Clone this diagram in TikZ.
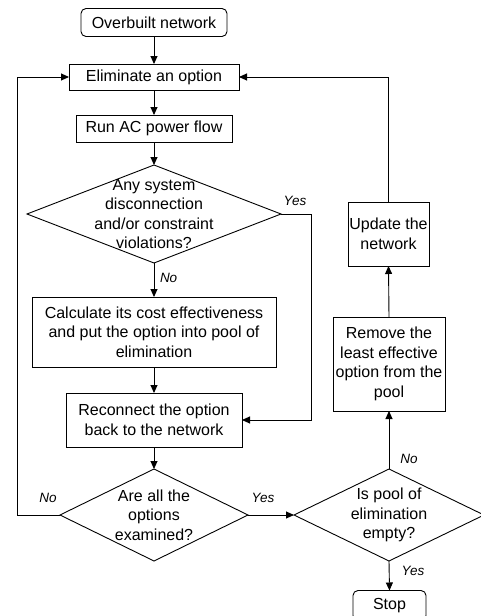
\documentclass[tikz,border=0pt]{standalone}
\usepackage{fontspec}
\setmainfont{Liberation Sans}
\usetikzlibrary{shapes.geometric,arrows.meta}
\begin{document}
\begin{tikzpicture}[x=1pt,y=-1pt,
  every node/.style={inner sep=0pt, outer sep=0pt},
  txt/.style={font=\fontsize{16}{19.5}\selectfont, align=center},
  boxnode/.style={draw, line width=0.9pt, txt},
  roundbox/.style={boxnode, rounded corners=5pt},
  dia/.style={draw, line width=0.9pt, diamond, inner sep=0pt},
  lbl/.style={font=\fontsize{13.5}{16}\selectfont\itshape},
  conn/.style={line width=0.9pt, -{Triangle[length=8pt,width=7pt]}},
  plain/.style={line width=0.9pt}]
\useasboundingbox (0,0) rectangle (480,616);

\node[roundbox, minimum width=146pt, minimum height=28pt] (start) at (154,22.5) {Overbuilt network};
\node[boxnode, minimum width=170pt, minimum height=26pt] (elim) at (154,77) {Eliminate an option};
\node[boxnode, minimum width=156pt, minimum height=27pt] (runac) at (154,128.5) {Run AC power flow};
\node[dia, minimum width=254pt, minimum height=98pt,
  label={[txt]center:Any system\\disconnection\\and/or constraint\\violations?}] (d1) at (154,214) {};
\node[boxnode, minimum width=244pt, minimum height=70pt] (calc) at (154,332) {Calculate its cost effectiveness\\and put the option into pool of\\elimination};
\node[boxnode, minimum width=176pt, minimum height=54pt] (recon) at (154,420) {Reconnect the option\\back to the network};
\node[dia, minimum width=188pt, minimum height=92pt,
  label={[txt]center:Are all the\\options\\examined?}] (d3) at (154,515) {};
\node[dia, minimum width=190pt, minimum height=92pt,
  label={[txt]center:Is pool of\\elimination\\empty?}] (d4) at (389,515) {};
\node[roundbox, minimum width=73pt, minimum height=30pt] (stop) at (389.5,605.5) {Stop};
\node[boxnode, minimum width=112pt, minimum height=94pt] (remove) at (389,364) {Remove the\\least effective\\option from the\\pool};
\node[boxnode, minimum width=81pt, minimum height=64pt] (update) at (388.5,234) {Update the\\network};

\draw[conn] (start.south) -- (elim.north);
\draw[conn] (elim.south) -- (runac.north);
\draw[conn] (runac.south) -- (d1.north);
\draw[conn] (d1.south) -- node[lbl, right=6pt, pos=0.45] (no1) {No} (calc.north);
\draw[conn] (calc.south) -- (recon.north);
\draw[conn] (recon.south) -- (d3.north);
\draw[conn] (d1.east) -- ++(30,0) |- (recon.east);
\node[lbl] (yes1) at (295,201) {Yes};
\draw[conn] (d3.west) -- ++(-43,0) |- (elim.west);
\node[lbl] (no3) at (48,498) {No};
\draw[conn] (d3.east) -- (d4.west);
\node[lbl] (yes3) at (263,498) {Yes};
\draw[conn] (d4.north) -- (remove.south);
\node[lbl] (no4) at (409,459) {No};
\draw[conn] (remove.north) -- (update.south);
\draw[conn] (update.north) |- (elim.east);
\draw[conn] (d4.south) -- (stop.north);
\node[lbl] (yes4) at (413,571) {Yes};
\end{tikzpicture}
\end{document}
